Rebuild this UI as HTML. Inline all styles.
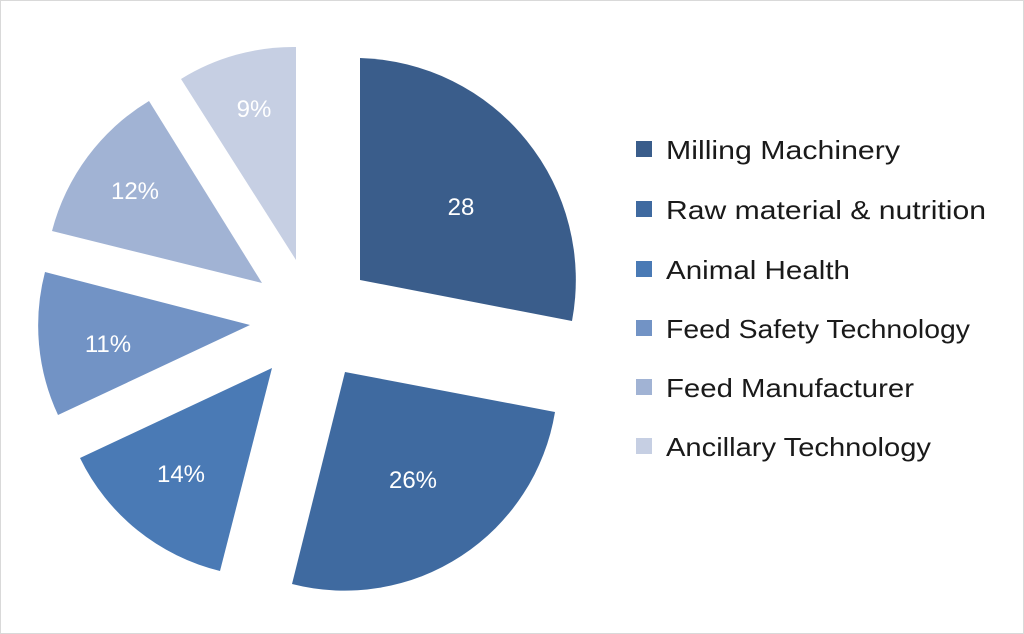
<!DOCTYPE html>
<html><head><meta charset="utf-8"><style>
html,body{margin:0;padding:0;background:#fff;}
svg{display:block;}
text{font-family:"Liberation Sans",sans-serif;}
</style></head><body>
<svg width="1024" height="634" viewBox="0 0 1024 634">
<rect x="0.5" y="0.5" width="1023" height="633" fill="#fff" stroke="#d9d9d9"/>
<path d="M360,280 L360,58 A222,222 0 0 1 572,321 Z" fill="#3a5d8b"/>
<path d="M345,372 L555,412 A213,213 0 0 1 292,584 Z" fill="#3f6aa0"/>
<path d="M272,368 L220,571 A211,211 0 0 1 80,458 Z" fill="#4a7ab5"/>
<path d="M250,325 L58,415 A212,212 0 0 1 45,272 Z" fill="#7293c5"/>
<path d="M262,283 L52,231 A215,215 0 0 1 149,101 Z" fill="#a1b3d4"/>
<path d="M296,260 L181,79 A213,213 0 0 1 296,47 Z" fill="#c6cfe3"/>
<g fill="#fff" font-size="24" text-anchor="middle">
<text x="461" y="215">28</text>
<text x="413" y="488">26%</text>
<text x="181" y="482">14%</text>
<text x="108" y="352">11%</text>
<text x="135" y="199">12%</text>
<text x="254" y="117">9%</text>
</g>
<g font-size="26" fill="#1a1a1a">
<rect x="636" y="141" width="16" height="16" fill="#3a5d8b"/><text x="666" y="159" textLength="234" lengthAdjust="spacingAndGlyphs">Milling Machinery</text>
<rect x="636" y="201" width="16" height="16" fill="#3f6aa0"/><text x="666" y="219" textLength="320" lengthAdjust="spacingAndGlyphs">Raw material &amp; nutrition</text>
<rect x="636" y="261" width="16" height="16" fill="#4a7ab5"/><text x="666" y="279" textLength="184" lengthAdjust="spacingAndGlyphs">Animal Health</text>
<rect x="636" y="320" width="16" height="16" fill="#7293c5"/><text x="666" y="338" textLength="304" lengthAdjust="spacingAndGlyphs">Feed Safety Technology</text>
<rect x="636" y="379" width="16" height="16" fill="#a1b3d4"/><text x="666" y="397" textLength="248" lengthAdjust="spacingAndGlyphs">Feed Manufacturer</text>
<rect x="636" y="438" width="16" height="16" fill="#c6cfe3"/><text x="666" y="456" textLength="265" lengthAdjust="spacingAndGlyphs">Ancillary Technology</text>
</g>
</svg>
</body></html>
